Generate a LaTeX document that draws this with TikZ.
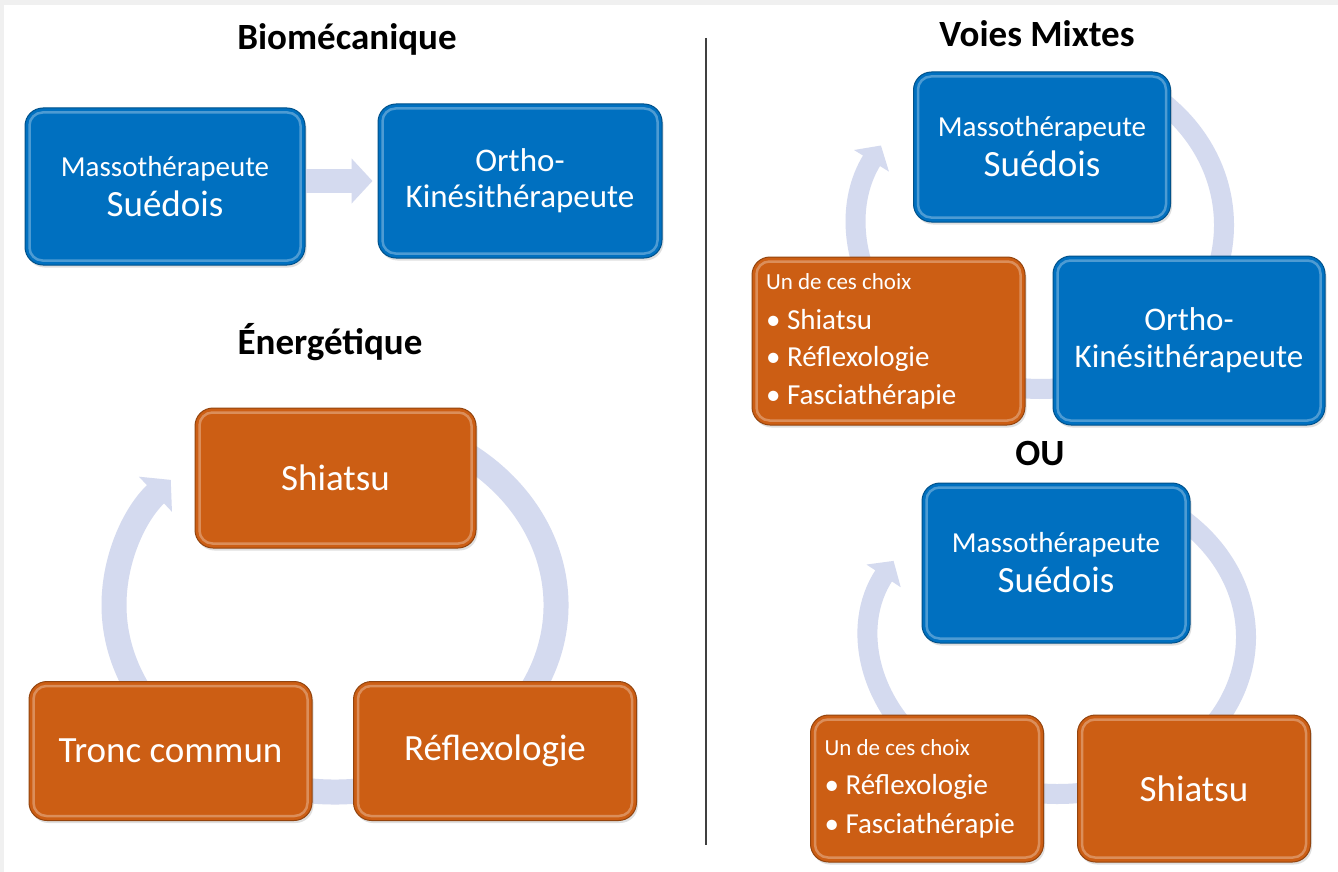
\documentclass[tikz,border=0pt]{standalone}
\usepackage{fontspec}
\setmainfont{Carlito}
\usetikzlibrary{arrows.meta, shadows}

\definecolor{massblue}{RGB}{0,112,192}
\definecolor{energyorange}{RGB}{204,94,20}
\definecolor{cyclelilac}{RGB}{212,218,239}
\definecolor{paneledge}{RGB}{240,240,240}
\definecolor{splitgray}{RGB}{64,64,64}

\newcommand{\txtchoix}{\fontsize{23}{28}\selectfont}
\newcommand{\txtbig}{\fontsize{37}{40}\selectfont}

\tikzset{
  stagebox/.style={rounded corners=18pt, draw=#1!72!black, line width=1pt, fill=#1,
    text=white, inner sep=0pt, align=center,
    drop shadow={shadow xshift=1.5pt, shadow yshift=-2.5pt, opacity=0.25}},
  bevel/.style={rounded corners=13pt, draw=white, draw opacity=0.3, line width=2.5pt},
  heading/.style={anchor=base, font=\fontsize{37}{40}\selectfont\bfseries},
  ringarc/.style={draw=cyclelilac, line width=#1},
  divider/.style={draw=splitgray, line width=1.2pt},
}

\begin{document}
\begin{tikzpicture}[x=1pt, y=-1pt]
    % frame
    \fill[paneledge] (0,0) rectangle (1338,872);
    \fill[white] (4,5) rectangle (1338,872);
    \useasboundingbox (0,0) rectangle (1338,872);
    % divider
    \draw[divider] (706,38) -- (706,845);
    % headings
    \node[heading] (tbio) at (347,50) {Biomécanique};
    \node[heading] (tener) at (330,354) {Énergétique};
    \node[heading] (tmix) at (1037,47) {Voies Mixtes};
    \node[heading] (tou) at (1040,465) {OU};
    % cycles (behind the boxes)
    \coordinate (ecyc) at (335,605);
    \draw[ringarc=25pt, -{Triangle[length=21pt,width=47pt]}] (ecyc) ++(-60:221 and 187)
        arc[start angle=-60, end angle=222, x radius=221, y radius=187];
    \coordinate (vcyc) at (1041,225);
    \draw[ringarc=20pt, -{Triangle[length=18pt,width=40pt]}] (vcyc) ++(-50:183 and 164)
        arc[start angle=-50, end angle=209, x radius=183, y radius=164];
    \coordinate (ocyc) at (1058,637);
    \draw[ringarc=20pt, -{Triangle[length=18pt,width=40pt]}] (ocyc) ++(-50:188 and 157)
        arc[start angle=-50, end angle=209, x radius=188, y radius=157];
    % biomecanique
    \node[stagebox=massblue, minimum width=280pt, minimum height=157pt,
        font=\fontsize{29}{40}\selectfont] (b1) at (165,186.5) {Massothérapeute\\{\txtbig Suédois}};
    \node[stagebox=massblue, minimum width=284pt, minimum height=154pt,
        font=\fontsize{33}{36}\selectfont] (b2) at (520,181) {Ortho-\\Kinésithérapeute};
    \draw[ringarc=24pt, -{Triangle[length=21pt,width=44pt]}] (b1.east |- b2.west) -- ([xshift=-5pt]b2.west);
    % energetique
    \node[stagebox=energyorange, minimum width=281pt, minimum height=140pt,
        font=\txtbig] (e1) at (335.5,478) {Shiatsu};
    \node[stagebox=energyorange, minimum width=283pt, minimum height=139pt,
        font=\txtbig] (e2) at (170.5,751) {Tronc commun};
    \node[stagebox=energyorange, minimum width=283pt, minimum height=139pt,
        font=\txtbig] (e3) at (495,751) {Réflexologie};
    % voies mixtes
    \node[stagebox=massblue, minimum width=257pt, minimum height=150pt,
        font=\fontsize{29}{40}\selectfont] (v1) at (1042,147) {Massothérapeute\\{\txtbig Suédois}};
    \node[stagebox=energyorange, minimum width=273pt, minimum height=168pt, align=flush left,
        inner xsep=14pt, text width=245pt, font=\fontsize{29}{37.5}\selectfont] (v2) at (888.5,341)
        {{\txtchoix Un de ces choix}\\[2.5pt]• Shiatsu\\• Réflexologie\\• Fasciathérapie};
    \node[stagebox=massblue, minimum width=272pt, minimum height=169pt,
        font=\fontsize{33}{37}\selectfont] (v3) at (1189,340.5) {Ortho-\\Kinésithérapeute};
    % ou
    \node[stagebox=massblue, minimum width=268pt, minimum height=160pt,
        font=\fontsize{29}{40}\selectfont] (o1) at (1056,563) {Massothérapeute\\{\txtbig Suédois}};
    \node[stagebox=energyorange, minimum width=233pt, minimum height=147pt, align=flush left,
        inner xsep=14pt, text width=205pt, font=\fontsize{29}{39}\selectfont] (o2) at (927,788.5)
        {{\txtchoix Un de ces choix}\\• Réflexologie\\• Fasciathérapie};
    \node[stagebox=energyorange, minimum width=233pt, minimum height=147pt,
        font=\txtbig] (o3) at (1194,788.5) {Shiatsu};
    % bevel highlights
    \foreach \n in {b1,b2,e1,e2,e3,v1,v2,v3,o1,o2,o3}
        \draw[bevel] ([shift={(5,5)}]\n.north west) rectangle ([shift={(-5,-5)}]\n.south east);
\end{tikzpicture}
\end{document}
